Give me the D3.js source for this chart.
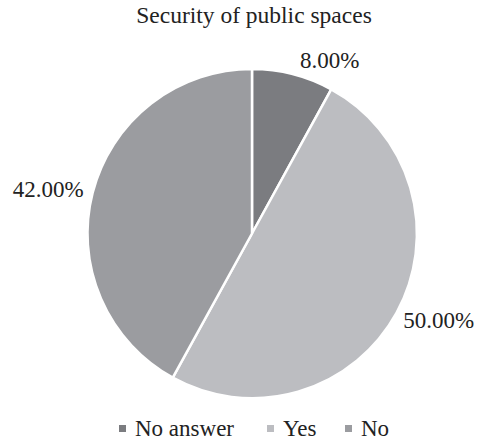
<!DOCTYPE html>
<html>
<head>
<meta charset="utf-8">
<script src="https://cdn.jsdelivr.net/npm/d3@7"></script>
<style>
  body { margin: 0; background: #fff; }
</style>
</head>
<body>
<div id="chart"></div>
<script>
// chart data
var categories = ["No answer", "Yes", "No"];
var shares = [8, 50, 42];
var colors = ["#7b7c80", "#bcbdc1", "#9b9ca0"];
var title = "Security of public spaces";

var w = 481, h = 442;
var cx = 252, cy = 233.5, r = 164.5;
var serif = "Tinos, Nimbus Roman, Nimbus Roman No9 L, Times, Liberation Serif, DejaVu Serif, FreeSerif, serif";

var svg = d3.select("#chart").append("svg")
  .attr("width", w)
  .attr("height", h)
  .attr("font-family", serif);

svg.append("text")
  .attr("x", 254)
  .attr("y", 23)
  .attr("text-anchor", "middle")
  .attr("fill", "#222")
  .style("font-size", "23.5px")
  .text(title);

var pie = d3.pie().sort(null).value(function(d) { return d; });
var arcs = pie(shares);
var arc = d3.arc().innerRadius(0).outerRadius(r);

var g = svg.append("g").attr("transform", "translate(" + cx + "," + cy + ")");

g.selectAll("path.slice")
  .data(arcs)
  .enter().append("path")
  .attr("class", "slice")
  .attr("d", arc)
  .attr("fill", function(d, i) { return colors[i]; })
  .attr("stroke", "#fff")
  .attr("stroke-width", 2.5)
  .attr("stroke-linejoin", "round");

// labels just outside the rim, anchored by side
g.selectAll("text.lbl")
  .data(arcs)
  .enter().append("text")
  .attr("class", "lbl")
  .each(function(d) {
    var a = (d.startAngle + d.endAngle) / 2;
    var s = Math.sin(a), c = Math.cos(a);
    var x = r * s + (s >= 0 ? 7 : -9);
    var y = -r * c - 15 * c + 8;
    d3.select(this)
      .attr("x", x)
      .attr("y", y)
      .attr("text-anchor", s >= 0 ? "start" : "end");
  })
  .attr("fill", "#222")
  .style("font-size", "23px")
  .text(function(d) { return d.value.toFixed(2) + "%"; });

// legend
var legendX = [119, 267, 345];
var legend = svg.append("g");
var item = legend.selectAll("g")
  .data(categories)
  .enter().append("g")
  .attr("transform", function(d, i) { return "translate(" + legendX[i] + ",425)"; });

item.append("rect")
  .attr("width", 7)
  .attr("height", 7)
  .attr("fill", function(d, i) { return colors[i]; });

item.append("text")
  .attr("x", 16)
  .attr("y", 11)
  .attr("fill", "#222")
  .style("font-size", "23px")
  .text(function(d) { return d; });
</script>
</body>
</html>
